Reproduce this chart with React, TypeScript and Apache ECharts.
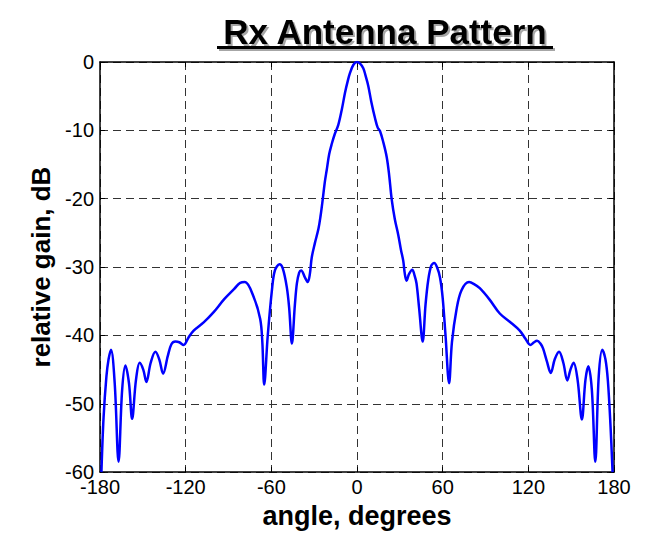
import React, { useEffect, useRef } from "react";
import * as echarts from "echarts";

const angles: number[] = [
  -179, -177.5, -175.5, -174, -172.3, -169.7, -167, -164.5, -162.2, -159.7, -157.5, -154.8, -152.2, -149.7, -147.5,
  -144.5, -141.2, -138.5, -135.8, -132.5, -130, -127.2, -124.5, -121.4, -118, -114.4, -107.4, -100.4, -93, -86,
  -81.8, -78.5, -72.5, -67.8, -66.3, -65, -62.5, -59.6, -57.5, -54.3, -52, -49.2, -47.5, -45.6, -43.5, -42.1,
  -40.5, -39.1, -36.5, -34.5, -33, -31.7, -29.5, -27, -25.5, -24, -22.5, -21.2, -19.5, -17.7, -15.5, -13.1,
  -10.5, -8.4, -6.5, -4.9, -2.5, 0,
  2, 4.4, 6, 7.9, 10, 12.6, 14.5, 16.1, 18.5, 20.8, 22.5, 24.3, 26.5, 28.9, 30.8, 32.4, 33.5, 34.7, 36.5,
  38.7, 40.3, 41.7, 43.5, 46, 48, 49.9, 52, 54.1, 56, 58.1, 60, 62, 64.5, 66.5, 69.7, 73.2, 78.5, 82, 86, 93,
  100, 107, 114, 118, 121.4, 124, 126.1, 128.5, 130.3, 133, 135.7, 138.5, 141.5, 144.5, 147.3, 149.5, 151.7,
  154.5, 157.5, 160, 162, 164.5, 166.9, 169.3, 171.8, 174, 175.7, 177.5, 179,
];

const gains: number[] = [
  -60, -52, -46, -43.5, -42.1, -47, -58.5, -48, -44.4, -47, -52.2, -46.5, -44.0, -45, -46.8,
  -44, -42.4, -43.5, -45.6, -43, -41.3, -40.9, -41.0, -41.4, -40.3, -39.3, -38.1, -36.6, -34.7, -33.2,
  -32.3, -32.2, -34.3, -37.6, -41, -47.2, -40, -33.4, -30.5, -29.6, -30.2, -32.9, -36, -41.2, -35.5, -32.4,
  -30.8, -30.5, -31.5, -32.2, -31, -28.6, -26.5, -24.4, -22.5, -20.1, -17.5, -15.8, -13.5, -12.0, -10.5, -9.2,
  -6.8, -4.5, -2.8, -1.6, -0.4, 0,
  -0.2, -0.9, -2.0, -3.5, -5.8, -8.2, -9.6, -10.1, -11.8, -13.9, -16.5, -20.1, -23.0, -25.3, -27.5, -29.1, -31.0, -32.0, -31.0,
  -30.4, -31.2, -32.4, -36, -40.9, -35.5, -31.9, -29.8, -29.4, -30.0, -31.5, -34.5, -40, -47.0, -41, -36.2, -33.4, -32.2, -32.5, -33.1, -34.8,
  -36.8, -38.0, -39.3, -40.5, -41.4, -41.0, -40.8, -41.2, -41.9, -43.8, -45.5, -43.5, -42.4, -44.0, -46.6, -45, -44.0,
  -46.5, -52.3, -46.5, -44.5, -48, -58.5, -46, -42.1, -43.5, -46.6, -53, -60,
];

const titleText = "Rx Antenna Pattern";
const xName = "angle, degrees";
const yName = "relative gain, dB";

export default function App() {
  const ref = useRef<HTMLDivElement>(null);
  useEffect(() => {
    if (!ref.current) return;
    const chart = echarts.init(ref.current, null, { renderer: "svg" });
    const font = "'Liberation Sans', Arial, sans-serif";
    const data = angles.map((a, i) => [a, gains[i]]);
    const tickLabel = { color: "#000", fontSize: 20, fontFamily: font };
    const line = { show: true, onZero: false, lineStyle: { color: "#000", width: 1.5 } };
    const tick = { show: true, inside: true, length: 5, lineStyle: { color: "#000" } };
    const grid = { show: true, lineStyle: { color: "#333", type: [8, 5], width: 1 } };
    chart.setOption({
      animation: false,
      backgroundColor: "#fff",
      graphic: [
        {
          type: "text",
          x: 385,
          y: 49,
          style: {
            text: titleText,
            fontSize: 35,
            fontWeight: "bold",
            fontFamily: font,
            fill: "#000",
            align: "center",
            verticalAlign: "bottom",
            textShadowColor: "rgba(0,0,0,0.35)",
            textShadowOffsetX: 2,
            textShadowOffsetY: 2,
            textShadowBlur: 1,
          },
        },
        {
          type: "rect",
          shape: { x: 217, y: 46, width: 336, height: 3 },
          style: {
            fill: "#000",
            shadowColor: "rgba(0,0,0,0.35)",
            shadowOffsetX: 2,
            shadowOffsetY: 2,
            shadowBlur: 1,
          },
        },
      ],
      grid: { left: 100, right: 31, top: 62, bottom: 50, show: false },
      xAxis: [
        {
          type: "value",
          min: -180,
          max: 180,
          interval: 60,
          name: xName,
          nameLocation: "middle",
          nameGap: 20,
          nameTextStyle: { color: "#000", fontSize: 27, fontWeight: "bold", fontFamily: font },
          axisLine: line,
          axisTick: tick,
          axisLabel: { ...tickLabel, margin: 5 },
          splitLine: grid,
        },
        {
          type: "value",
          position: "top",
          min: -180,
          max: 180,
          interval: 60,
          axisLine: line,
          axisTick: tick,
          axisLabel: { show: false },
          splitLine: { show: false },
        },
      ],
      yAxis: [
        {
          type: "value",
          min: -60,
          max: 0,
          interval: 10,
          name: yName,
          nameLocation: "middle",
          nameGap: 40,
          nameTextStyle: { color: "#000", fontSize: 26, fontWeight: "bold", fontFamily: font },
          axisLine: line,
          axisTick: tick,
          axisLabel: { ...tickLabel, margin: 6 },
          splitLine: grid,
        },
        {
          type: "value",
          position: "right",
          min: -60,
          max: 0,
          interval: 10,
          axisLine: line,
          axisTick: tick,
          axisLabel: { show: false },
          splitLine: { show: false },
        },
      ],
      series: [
        {
          type: "line",
          data,
          showSymbol: false,
          smooth: 0.35,
          clip: true,
          lineStyle: { color: "#0000ff", width: 2.5 },
        },
      ],
    });
    return () => chart.dispose();
  }, []);
  return (
    <div
      ref={ref}
      style={{ position: "absolute", left: 0, top: 0, width: 645, height: 534 }}
    />
  );
}
